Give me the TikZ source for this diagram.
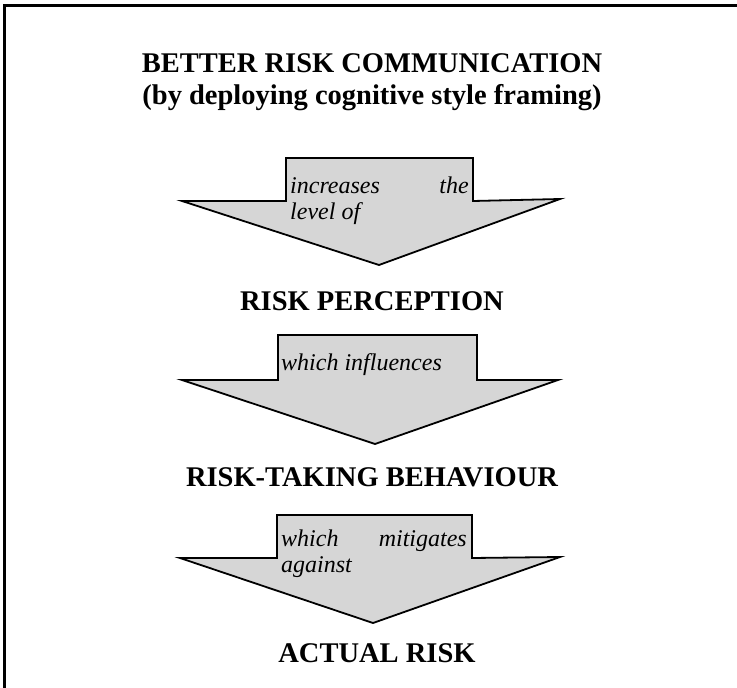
\documentclass[tikz,border=0pt]{standalone}
\usepackage{fontspec}
\setmainfont{Liberation Serif}
\begin{document}
\begin{tikzpicture}[x=1pt,y=-1pt,
  heading/.style={font=\fontsize{28.5}{33}\selectfont\bfseries, inner sep=0pt, anchor=base},
  linktext/.style={font=\fontsize{24}{22}\selectfont\itshape, inner sep=0pt},
  blockarrow/.style={draw=black, line width=1.8pt, fill=black!16, line join=miter}]
\useasboundingbox (0,0) rectangle (737,688);

% outer frame (continues past the right and bottom edges)
\draw[line width=2.2pt] (737,5.5) -- (4.5,5.5) -- (4.5,688);

% headings
\node[heading] (title1) at (372,72) {BETTER RISK COMMUNICATION};
\node[heading] (title2) at (372,104) {(by deploying cognitive style framing)};
\node[heading] (perc) at (372,310) {RISK PERCEPTION};
\node[heading] (behav) at (372,486) {RISK-TAKING BEHAVIOUR};
\node[heading] (actual) at (377,662) {ACTUAL RISK};

% first block arrow
\draw[blockarrow] (286,158) -- (473,158) -- (473,201) -- (560,199)
  -- (379,265) -- (182,201) -- (286,201) -- cycle;
\node[linktext, anchor=base west] (a1w1) at (290,193) {increases};
\node[linktext, anchor=base east] (a1w2) at (469,193) {the};
\node[linktext, anchor=base west] (a1w3) at (290,219) {level of};

% second block arrow
\draw[blockarrow] (278,335) -- (477,335) -- (477,380) -- (558,380)
  -- (375,444) -- (182,380) -- (278,380) -- cycle;
\node[linktext, anchor=base west] (a2w1) at (281,370) {which influences};

% third block arrow
\draw[blockarrow] (277,515) -- (472,515) -- (472,558) -- (560,557)
  -- (373,623) -- (180,558) -- (277,558) -- cycle;
\node[linktext, anchor=base west] (a3w1) at (281,546) {which};
\node[linktext, anchor=base east] (a3w2) at (467,546) {mitigates};
\node[linktext, anchor=base west] (a3w3) at (281,572) {against};
\end{tikzpicture}
\end{document}
